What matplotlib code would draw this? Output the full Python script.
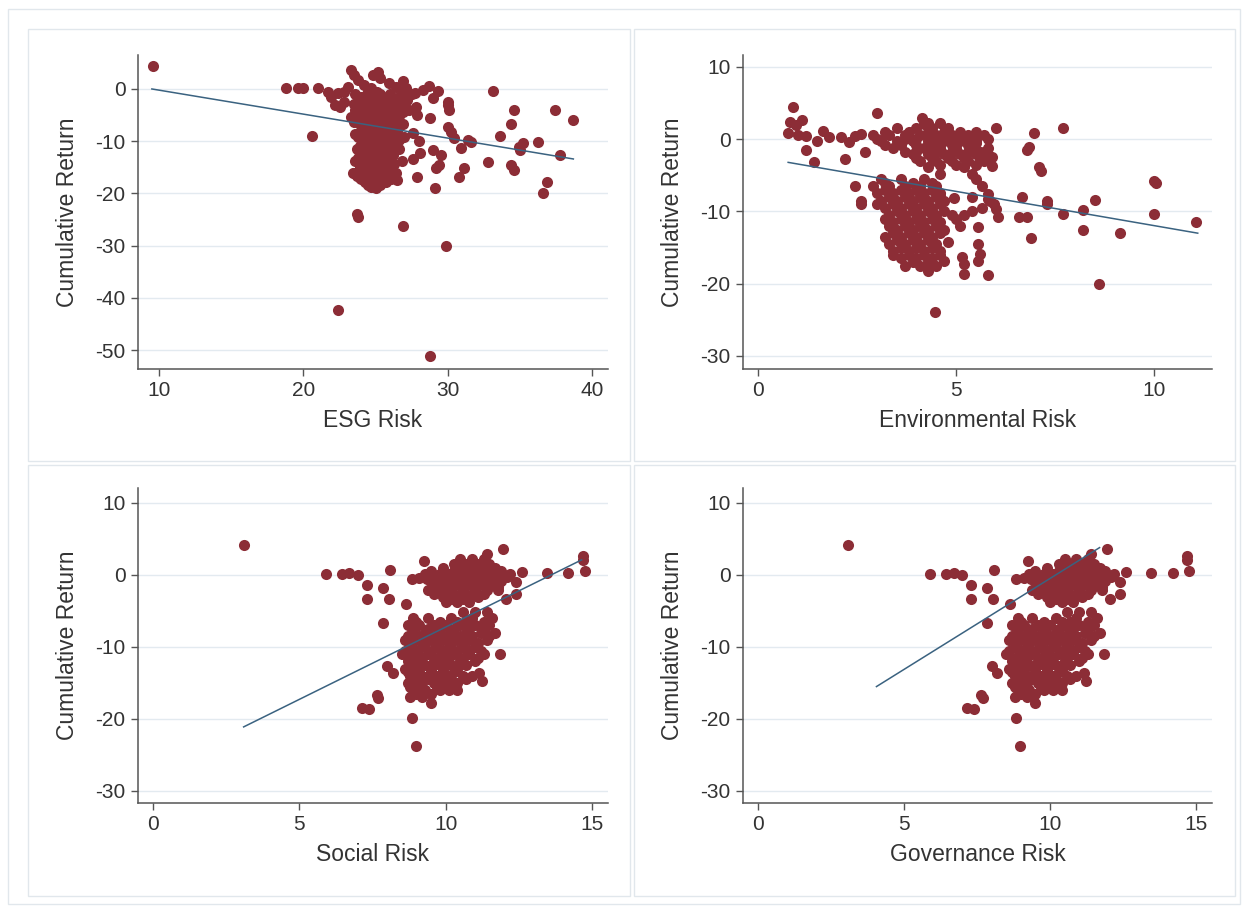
import matplotlib
matplotlib.use("Agg")
import matplotlib.pyplot as plt
from matplotlib.patches import Rectangle

plt.rcParams["font.family"] = ["Liberation Sans", "DejaVu Sans"]
plt.rcParams["axes.unicode_minus"] = False

# ---- data (x risk score, cumulative return) ----
esg_pts = [
    (9.6, 4.3), (18.8, 0.1), (19.6, 0.1), (20.0, 0.1), (21.0, 0.2), (20.6, -9.0),
    (23.7, -24.0), (23.8, -24.5), (26.9, -26.3), (29.9, -30.0), (22.4, -42.3), (28.8, -51.2),
    (33.1, -0.4), (34.6, -4.0), (37.4, -4.0), (38.7, -6.0), (34.4, -6.7), (33.6, -9.0),
    (35.2, -10.4), (34.9, -11.1), (35.0, -11.7), (36.25, -10.2), (37.8, -12.7), (32.8, -14.0),
    (34.4, -14.6), (34.6, -15.6), (36.9, -17.9), (36.6, -20.0), (31.6, -10.2), (31.4, -9.8),
    (31.1, -15.2), (30.8, -16.9), (29.2, -15.2), (29.4, -14.6), (29.1, -19.0), (27.9, -16.9),
    (28.8, -5.6), (27.9, -5.0), (30.0, -3.1), (30.1, -4.0), (29.0, -1.7), (28.3, -0.2),
    (30.0, -7.3), (30.2, -8.3), (30.4, -9.4), (30.9, -11.3), (29.0, -11.7), (29.5, -12.7),
    (27.6, -8.5), (28.0, -10.0), (27.6, -13.5), (28.1, -12.2), (26.2, -17.1), (26.5, -17.5),
    (29.3, -0.3), (28.7, 0.5), (30.0, -2.5),
    (21.7, -0.6), (21.9, -1.5), (22.2, -3.1), (22.4, -0.8), (22.8, -0.6), (23.3, 3.7),
    (23.5, 2.7), (23.75, 1.7), (23.1, 0.4), (24.2, 0.8), (24.7, 0.2), (25.1, -0.6),
    (23.95, -1.7), (23.3, -5.4), (23.5, -6.3), (23.95, -8.3), (23.4, -16.0), (23.95, -17.1),
    (24.65, -18.8), (25.0, -19.0), (25.2, 3.3), (25.3, 2.1), (24.8, 2.6), (25.9, 1.2),
    (26.4, 0.4), (27.1, 0.2), (27.7, -0.8), (26.9, 1.5), (22.8, -2.5), (22.5, -3.5),
    (23.6, -1.0), (24.4, -1.0), (25.3, -1.0), (26.0, -1.0), (26.8, -1.0), (27.5, -1.0),
    (23.9, -2.2), (24.7, -2.2), (25.5, -2.2), (26.3, -2.2), (27.2, -2.2),
    (24.1, -3.4), (24.9, -3.4), (25.6, -3.4), (26.5, -3.4), (27.8, -3.4),
    (23.8, -4.5), (24.5, -4.5), (25.2, -4.5), (26.1, -4.5), (26.9, -4.5),
    (24.2, -5.7), (25.0, -5.7), (25.7, -5.7), (26.4, -5.7),
    (23.9, -6.8), (24.6, -6.8), (25.3, -6.8), (26.0, -6.8), (26.9, -6.8),
    (24.3, -8.0), (25.0, -8.0), (25.8, -8.0), (26.5, -8.0),
    (23.8, -9.1), (24.5, -9.1), (25.2, -9.1), (25.9, -9.1), (27.0, -9.1),
    (24.1, -10.3), (24.9, -10.3), (25.6, -10.3), (26.3, -10.3),
    (23.7, -11.5), (24.4, -11.5), (25.1, -11.5), (25.8, -11.5), (26.6, -11.5),
    (24.0, -12.6), (24.8, -12.6), (25.5, -12.6), (26.2, -12.6),
    (23.6, -13.8), (24.3, -13.8), (25.0, -13.8), (25.7, -13.8), (26.8, -13.8),
    (23.9, -15.0), (24.6, -15.0), (25.3, -15.0), (26.0, -15.0),
    (23.5, -16.1), (24.2, -16.1), (24.9, -16.1), (25.6, -16.1), (26.4, -16.1),
    (24.0, -17.3), (24.7, -17.3), (25.4, -17.3), (26.1, -17.3),
    (24.5, -18.4), (25.3, -18.4),
    (24.0, -1.6), (24.9, -1.6), (25.8, -1.6), (26.6, -1.6),
    (23.5, -2.8), (24.3, -2.8), (25.1, -2.8), (25.9, -2.8), (26.8, -2.8),
    (23.6, -4.0), (24.5, -4.0), (25.4, -4.0), (26.3, -4.0), (27.3, -4.0),
    (24.0, -5.1), (24.8, -5.1), (25.5, -5.1), (26.6, -5.1),
    (23.6, -6.2), (24.4, -6.2), (25.2, -6.2), (26.2, -6.2),
    (24.1, -7.4), (24.8, -7.4), (25.6, -7.4), (26.3, -7.4),
    (23.6, -8.6), (24.6, -8.6), (25.4, -8.6), (26.2, -8.6),
    (24.2, -9.7), (24.9, -9.7), (25.7, -9.7), (26.6, -9.7),
    (23.9, -10.9), (24.7, -10.9), (25.4, -10.9), (26.1, -10.9),
    (24.2, -12.0), (25.0, -12.0), (25.7, -12.0),
    (23.8, -13.2), (24.6, -13.2), (25.3, -13.2), (26.0, -13.2),
    (24.1, -14.4), (24.9, -14.4), (25.6, -14.4), (26.3, -14.4),
    (24.0, -15.6), (24.8, -15.6), (25.5, -15.6),
    (23.7, -16.7), (24.5, -16.7), (25.2, -16.7), (25.9, -16.7),
    (24.3, -17.9), (25.0, -17.9), (25.7, -17.9),
]

env_pts = [
    (0.88, 4.4), (0.8, 2.4), (1.1, 2.6), (0.95, 2.0), (0.75, 0.9), (1.0, 0.6), (1.2, 0.5),
    (1.2, -1.5), (1.4, -3.2), (1.64, 1.1), (1.8, 0.3), (1.5, -0.3), (2.1, 0.3), (2.3, -0.4),
    (2.45, 0.4), (2.6, 0.7), (2.7, -1.7), (2.2, -2.8), (2.45, -6.5), (2.6, -8.6), (3.0, 3.7),
    (4.15, 3.0), (4.2, 2.1), (2.6, -9.0),
    (3.5, 1.5), (4.0, 1.5), (4.4, 1.5), (4.8, 1.5),
    (2.9, 0.6), (3.3, 0.6), (3.7, 0.6), (4.1, 0.6), (4.5, 0.6), (4.9, 0.6), (5.3, 0.6), (5.7, 0.6),
    (3.1, -0.3), (3.5, -0.3), (3.9, -0.3), (4.3, -0.3), (4.7, -0.3), (5.1, -0.3), (5.5, -0.3),
    (3.4, -1.2), (4.2, -1.2), (4.6, -1.2), (5.0, -1.2), (5.4, -1.2), (5.8, -1.2),
    (3.9, -2.1), (4.3, -2.1), (4.7, -2.1), (5.1, -2.1), (5.5, -2.1),
    (4.1, -3.0), (4.5, -3.0), (4.9, -3.0), (5.3, -3.0), (5.7, -3.0),
    (4.3, -3.9), (5.2, -3.9), (4.6, -4.8), (5.4, -4.8),
    (3.2, 1.0), (3.8, 1.0), (4.3, 1.0), (4.7, 1.0), (5.1, 1.0), (5.5, 1.0),
    (3.0, 0.1), (3.7, 0.1), (4.0, 0.1), (4.5, 0.1), (4.9, 0.1), (5.3, 0.1), (5.8, 0.1),
    (3.2, -0.8), (3.6, -0.8), (4.0, -0.8), (4.4, -0.8), (4.9, -0.8), (5.3, -0.8),
    (3.7, -1.7), (4.0, -1.7), (4.5, -1.7), (4.9, -1.7), (5.3, -1.7), (5.6, -1.7),
    (4.0, -2.6), (4.4, -2.6), (4.8, -2.6), (5.2, -2.6), (5.6, -2.6),
    (4.6, -3.5), (5.0, -3.5), (5.5, -3.5), (4.3, 2.3), (4.6, 2.3),
    (3.1, -5.5), (3.6, -5.5), (4.2, -5.5),
    (2.9, -6.5), (3.3, -6.5), (3.7, -6.5), (4.1, -6.5), (4.5, -6.5),
    (3.0, -7.5), (3.4, -7.5), (3.8, -7.5), (4.2, -7.5), (4.6, -7.5),
    (3.1, -8.5), (3.5, -8.5), (3.9, -8.5), (4.3, -8.5), (4.7, -8.5),
    (3.2, -9.5), (3.6, -9.5), (4.0, -9.5), (4.4, -9.5),
    (3.3, -10.5), (3.7, -10.5), (4.1, -10.5), (4.5, -10.5), (4.9, -10.5),
    (3.4, -11.5), (3.8, -11.5), (4.2, -11.5), (4.6, -11.5),
    (3.5, -12.5), (3.9, -12.5), (4.3, -12.5), (4.7, -12.5),
    (3.2, -13.5), (3.6, -13.5), (4.0, -13.5), (4.4, -13.5),
    (3.3, -14.5), (3.7, -14.5), (4.1, -14.5), (4.5, -14.5),
    (3.4, -15.5), (3.8, -15.5), (4.2, -15.5), (4.6, -15.5),
    (3.6, -16.5), (4.0, -16.5), (4.4, -16.5),
    (3.7, -17.5), (4.1, -17.5), (4.5, -17.5), (4.3, -18.2),
    (3.2, -6.0), (3.9, -6.0), (4.4, -6.0),
    (3.2, -7.0), (3.6, -7.0), (4.0, -7.0), (4.4, -7.0),
    (3.3, -8.0), (3.7, -8.0), (4.1, -8.0), (4.5, -8.0),
    (3.0, -9.0), (3.4, -9.0), (3.8, -9.0), (4.2, -9.0), (4.6, -9.0),
    (3.5, -10.0), (3.9, -10.0), (4.3, -10.0), (4.7, -10.0),
    (3.2, -11.0), (3.6, -11.0), (4.0, -11.0), (4.4, -11.0),
    (3.3, -12.0), (3.7, -12.0), (4.1, -12.0), (4.5, -12.0),
    (3.4, -13.0), (3.8, -13.0), (4.2, -13.0), (4.6, -13.0),
    (3.5, -14.0), (3.9, -14.0), (4.3, -14.0),
    (3.6, -15.0), (4.0, -15.0), (4.4, -15.0),
    (3.4, -16.0), (3.8, -16.0), (4.2, -16.0), (4.6, -16.0),
    (3.9, -17.0), (4.3, -17.0),
    (4.47, -23.9), (5.2, -18.7), (5.2, -17.3), (5.15, -16.3), (5.8, -18.8), (5.55, -16.9),
    (5.6, -15.9), (5.55, -14.5), (5.55, -12.2), (5.1, -12.0), (5.0, -11.0), (5.2, -10.5),
    (5.4, -10.0), (5.65, -9.5), (4.7, -16.9), (4.8, -14.2), (6.05, -10.8), (6.0, -9.7),
    (5.95, -9.0), (6.67, -8.0), (6.6, -10.8), (6.8, -10.7), (6.9, -13.6), (7.3, -8.9),
    (7.7, -10.4), (8.2, -9.8), (8.5, -8.4), (8.2, -12.6), (9.15, -13.0), (10.0, -10.4),
    (11.06, -11.5), (8.6, -20.1), (4.6, -7.9), (4.95, -8.2), (5.4, -8.0), (5.8, -8.3),
    (6.0, 1.5), (6.97, 0.8), (7.7, 1.5), (6.8, -1.5), (6.85, -1.1), (7.1, -3.9), (7.15, -4.4),
    (5.9, -3.7), (10.0, -5.8), (10.05, -6.1), (5.5, -0.5), (5.7, -1.8), (5.9, -2.5),
    (5.5, -5.5), (5.65, -6.5), (5.8, -7.6), (5.85, -8.6), (7.3, -8.6),
]

soc_pts = [
    (3.1, 4.1), (5.9, 0.1), (6.45, 0.1), (6.7, 0.3), (7.0, 0.0), (7.3, -1.4), (7.3, -3.3),
    (7.85, -1.8), (8.05, -3.3), (8.1, 0.7), (7.85, -6.7), (8.65, -4.0), (9.25, 1.9),
    (11.4, 2.9), (11.95, 3.6), (12.6, 0.4), (12.4, -1.0), (12.05, -3.4), (12.4, -2.7),
    (13.45, 0.3), (14.2, 0.3), (14.7, 2.6), (14.7, 2.1), (14.75, 0.5), (8.85, -0.5),
    (9.1, -0.4), (9.35, -0.5), (11.85, -11.0), (11.25, -14.7), (11.15, -13.6), (8.0, -12.6),
    (8.2, -13.6), (7.65, -16.7), (7.7, -17.1), (7.15, -18.5), (7.4, -18.6), (8.85, -19.9),
    (8.98, -23.8), (10.1, -16.0), (10.4, -16.0), (9.5, -17.8),
    (10.3, 1.5), (10.7, 1.5), (11.1, 1.5), (11.5, 1.5),
    (9.5, 0.6), (9.9, 0.6), (10.3, 0.6), (10.7, 0.6), (11.1, 0.6), (11.5, 0.6), (11.9, 0.6),
    (9.7, -0.3), (10.1, -0.3), (10.5, -0.3), (10.9, -0.3), (11.3, -0.3), (11.7, -0.3), (12.1, -0.3),
    (9.6, -1.2), (10.0, -1.2), (10.4, -1.2), (10.8, -1.2), (11.2, -1.2), (11.6, -1.2),
    (9.4, -2.1), (9.8, -2.1), (10.2, -2.1), (10.6, -2.1), (11.0, -2.1), (11.4, -2.1), (11.8, -2.1),
    (9.9, -3.0), (10.3, -3.0), (10.7, -3.0), (11.1, -3.0),
    (10.0, -3.8), (10.4, -3.8), (10.8, -3.8),
    (9.9, 1.0), (10.5, 1.0), (10.9, 1.0), (11.3, 1.0), (11.7, 1.0),
    (9.3, 0.1), (9.8, 0.1), (10.1, 0.1), (10.5, 0.1), (10.9, 0.1), (11.3, 0.1), (11.7, 0.1), (12.2, 0.1),
    (9.5, -0.8), (9.9, -0.8), (10.3, -0.8), (10.7, -0.8), (11.1, -0.8), (11.5, -0.8), (11.9, -0.8),
    (9.8, -1.7), (10.2, -1.7), (10.6, -1.7), (11.0, -1.7), (11.4, -1.7), (11.8, -1.7),
    (9.6, -2.6), (10.0, -2.6), (10.5, -2.6), (10.9, -2.6), (11.3, -2.6),
    (10.2, -3.4), (10.6, -3.4), (10.5, 2.2), (10.9, 2.2), (11.3, 2.2),
    (10.6, -5.2), (11.0, -5.2), (11.4, -5.2),
    (8.9, -6.0), (9.4, -6.0), (10.2, -6.0), (10.9, -6.0), (11.6, -6.0),
    (8.7, -7.0), (9.1, -7.0), (9.6, -7.0), (10.0, -7.0), (10.5, -7.0), (11.0, -7.0), (11.5, -7.0),
    (8.9, -8.0), (9.3, -8.0), (9.8, -8.0), (10.2, -8.0), (10.7, -8.0), (11.2, -8.0), (11.7, -8.0),
    (8.6, -9.0), (9.0, -9.0), (9.5, -9.0), (9.9, -9.0), (10.4, -9.0), (10.8, -9.0), (11.4, -9.0),
    (8.8, -10.0), (9.2, -10.0), (9.7, -10.0), (10.1, -10.0), (10.6, -10.0), (11.0, -10.0),
    (8.5, -11.0), (9.0, -11.0), (9.4, -11.0), (9.9, -11.0), (10.3, -11.0), (10.8, -11.0), (11.3, -11.0),
    (8.7, -12.0), (9.1, -12.0), (9.6, -12.0), (10.0, -12.0), (10.5, -12.0), (11.0, -12.0),
    (8.6, -13.0), (9.0, -13.0), (9.5, -13.0), (9.9, -13.0), (10.4, -13.0),
    (8.8, -14.0), (9.2, -14.0), (9.7, -14.0), (10.1, -14.0), (10.6, -14.0), (10.9, -14.0),
    (8.7, -15.0), (9.1, -15.0), (9.6, -15.0), (10.0, -15.0), (10.4, -15.0),
    (8.9, -16.0), (9.3, -16.0), (9.8, -16.0), (8.8, -17.0), (9.2, -17.0),
    (9.0, -6.5), (9.8, -6.5), (10.4, -6.5), (10.7, -6.5), (11.3, -6.5),
    (8.9, -7.5), (9.4, -7.5), (9.8, -7.5), (10.3, -7.5), (10.8, -7.5), (11.3, -7.5),
    (8.7, -8.5), (9.1, -8.5), (9.6, -8.5), (10.0, -8.5), (10.5, -8.5), (10.9, -8.5), (11.5, -8.5),
    (8.8, -9.5), (9.3, -9.5), (9.7, -9.5), (10.2, -9.5), (10.6, -9.5), (11.1, -9.5),
    (8.6, -10.5), (9.0, -10.5), (9.5, -10.5), (9.9, -10.5), (10.4, -10.5), (10.8, -10.5), (11.2, -10.5),
    (8.8, -11.5), (9.2, -11.5), (9.7, -11.5), (10.1, -11.5), (10.6, -11.5), (11.1, -11.5),
    (8.9, -12.5), (9.3, -12.5), (9.8, -12.5), (10.2, -12.5), (10.7, -12.5),
    (8.7, -13.5), (9.1, -13.5), (9.5, -13.5), (9.9, -13.5), (10.3, -13.5),
    (8.9, -14.5), (9.4, -14.5), (9.8, -14.5), (10.2, -14.5), (10.7, -14.5),
    (8.8, -15.5), (9.2, -15.5), (9.7, -15.5), (10.1, -15.5),
    (9.0, -16.5), (9.5, -16.5),
]
# the reference draws the same cloud in the governance panel
gov_pts = list(soc_pts)

# fitted lines (endpoints)
esg_fit_x, esg_fit_y = [9.5, 38.7], [0.0, -13.4]
env_fit_x, env_fit_y = [0.76, 11.1], [-3.2, -13.0]
soc_fit_x, soc_fit_y = [3.1, 14.65], [-21.1, 2.1]
gov_fit_x, gov_fit_y = [4.06, 11.7], [-15.5, 3.8]

x_labels = ["ESG Risk", "Environmental Risk", "Social Risk", "Governance Risk"]
x_ticks = [[10, 20, 30, 40], [0, 5, 10], [0, 5, 10, 15], [0, 5, 10, 15]]
y_ticks = [[0, -10, -20, -30, -40, -50], [10, 0, -10, -20, -30],
           [10, 0, -10, -20, -30], [10, 0, -10, -20, -30]]
x_lims = [(8.54, 41.1), (-0.38, 11.46), (-0.51, 15.55), (-0.51, 15.55)]
y_lims = [(-53.6, 6.5), (-31.8, 11.66), (-31.67, 12.08), (-31.67, 12.08)]

W, H = 1244, 909
MARKER = "#8C2D36"
LINE = "#3A6280"
GRID = "#E3EAF0"
FRAME = "#E1E7EC"

fig = plt.figure(figsize=(W / 100, H / 100), dpi=100)
fig.patch.set_facecolor("white")


def px_rect(l, t, r, b):
    return [l / W, 1 - b / H, (r - l) / W, (b - t) / H]


# outer frame and panel frames
fig.add_artist(Rectangle((8 / W, 1 - 904 / H), 1232 / W, 895 / H, transform=fig.transFigure,
                         fill=False, edgecolor=FRAME, linewidth=1))
panel_boxes = [(28, 29, 630, 461), (634, 29, 1235, 461), (28, 465, 630, 896), (634, 465, 1235, 896)]
for l, t, r, b in panel_boxes:
    fig.add_artist(Rectangle((l / W, 1 - b / H), (r - l) / W, (b - t) / H,
                             transform=fig.transFigure, fill=False,
                             edgecolor=FRAME, linewidth=1))

axes_px = [(138, 55, 608, 369), (743, 55, 1212, 369), (138, 488, 608, 803), (743, 488, 1212, 803)]
panels = [
    (esg_pts, esg_fit_x, esg_fit_y),
    (env_pts, env_fit_x, env_fit_y),
    (soc_pts, soc_fit_x, soc_fit_y),
    (gov_pts, gov_fit_x, gov_fit_y),
]

for i, (pts, fx, fy) in enumerate(panels):
    ax = fig.add_axes(px_rect(*axes_px[i]))
    xs = [p[0] for p in pts]
    ys = [p[1] for p in pts]
    ax.scatter(xs, ys, s=64, color=MARKER, linewidths=0, zorder=2)
    ax.plot(fx, fy, color=LINE, linewidth=1.1, zorder=3)

    ax.set_xlim(*x_lims[i])
    ax.set_ylim(*y_lims[i])
    ax.set_xticks(x_ticks[i])
    ax.set_yticks(y_ticks[i])
    ax.yaxis.grid(True, color=GRID, linewidth=1.0, zorder=0)
    ax.set_axisbelow(True)
    for side in ["top", "right"]:
        ax.spines[side].set_visible(False)
    for side in ["left", "bottom"]:
        ax.spines[side].set_color("#555555")
        ax.spines[side].set_linewidth(1.1)
    ax.tick_params(axis="both", direction="out", length=5, width=1.0, color="#555555",
                   labelsize=15, labelcolor="#333333", pad=4)
    ax.set_xlabel(x_labels[i], fontsize=16.5, color="#333333", labelpad=6)
    ax.set_ylabel("Cumulative Return", fontsize=16.5, color="#333333", labelpad=12)

fig.savefig("out.png", dpi=100, facecolor="white")
